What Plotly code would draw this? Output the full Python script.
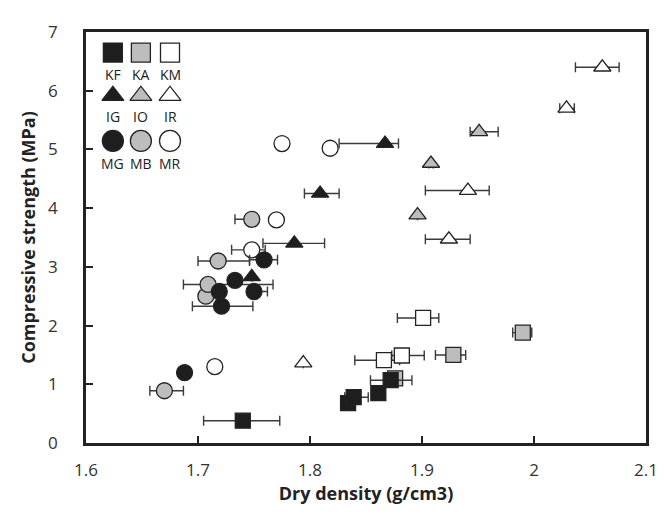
import plotly.graph_objects as go

# ---- data: dry density (x), compressive strength (y), x error minus/plus ----
KF_x = [1.740, 1.834, 1.839, 1.861, 1.872]
KF_y = [0.38, 0.68, 0.78, 0.85, 1.07]
KF_em = [0.035, 0.003, 0.008, 0.0, 0.018]
KF_ep = [0.033, 0.0, 0.013, 0.0, 0.019]

KA_x = [1.876, 1.928, 1.990]
KA_y = [1.10, 1.50, 1.88]
KA_em = [0.0, 0.016, 0.009]
KA_ep = [0.0, 0.011, 0.008]

KM_x = [1.866, 1.882, 1.901]
KM_y = [1.41, 1.49, 2.13]
KM_em = [0.026, 0.009, 0.023]
KM_ep = [0.014, 0.020, 0.014]

IG_x = [1.748, 1.786, 1.809, 1.867]
IG_y = [2.83, 3.40, 4.25, 5.10]
IG_em = [0.0, 0.028, 0.014, 0.041]
IG_ep = [0.0, 0.027, 0.017, 0.012]

IO_x = [1.896, 1.908, 1.951]
IO_y = [3.88, 4.76, 5.30]
IO_em = [0.0, 0.002, 0.008]
IO_ep = [0.0, 0.002, 0.017]

IR_x = [1.794, 1.924, 1.941, 2.029, 2.061]
IR_y = [1.36, 3.47, 4.30, 5.70, 6.40]
IR_em = [0.0, 0.021, 0.038, 0.006, 0.024]
IR_ep = [0.0, 0.019, 0.019, 0.007, 0.015]

MG_x = [1.688, 1.719, 1.721, 1.733, 1.750, 1.759]
MG_y = [1.20, 2.58, 2.33, 2.77, 2.58, 3.12]
MG_em = [0.0, 0.0, 0.026, 0.0, 0.0, 0.013]
MG_ep = [0.0, 0.0, 0.028, 0.0, 0.012, 0.012]

MB_x = [1.670, 1.707, 1.709, 1.718, 1.748]
MB_y = [0.89, 2.50, 2.70, 3.10, 3.81]
MB_em = [0.013, 0.0, 0.022, 0.018, 0.015]
MB_ep = [0.017, 0.0, 0.058, 0.028, 0.0]

MR_x = [1.715, 1.748, 1.770, 1.775, 1.818]
MR_y = [1.30, 3.29, 3.80, 5.10, 5.02]
MR_em = [0.002, 0.018, 0.0, 0.0, 0.0]
MR_ep = [0.002, 0.012, 0.0, 0.0, 0.0]

x_ticks = [1.6, 1.7, 1.8, 1.9, 2.0, 2.1]
x_tick_text = ["1.6", "1.7", "1.8", "1.9", "2", "2.1"]
y_ticks = [0, 1, 2, 3, 4, 5, 6, 7]

# legend grid (labels, symbols, fills)
leg_labels = [["KF", "KA", "KM"], ["IG", "IO", "IR"], ["MG", "MB", "MR"]]

BLACK = "#1e1e1e"
GRAY = "#bdbdbd"
WHITE = "#ffffff"
EDGE = "#232323"
ERR = "#3a3a3a"

series = [
    ("KM", KM_x, KM_y, KM_em, KM_ep, "square", WHITE, 15),
    ("KA", KA_x, KA_y, KA_em, KA_ep, "square", GRAY, 15),
    ("IR", IR_x, IR_y, IR_em, IR_ep, "triangle-up", WHITE, 15),
    ("IO", IO_x, IO_y, IO_em, IO_ep, "triangle-up", GRAY, 15),
    ("MR", MR_x, MR_y, MR_em, MR_ep, "circle", WHITE, 16),
    ("MB", MB_x, MB_y, MB_em, MB_ep, "circle", GRAY, 16),
    ("KF", KF_x, KF_y, KF_em, KF_ep, "square", BLACK, 15),
    ("IG", IG_x, IG_y, IG_em, IG_ep, "triangle-up", BLACK, 15),
    ("MG", MG_x, MG_y, MG_em, MG_ep, "circle", BLACK, 16),
]

fig = go.Figure()
for name, xs, ys, em, ep, sym, fill, size in series:
    fig.add_trace(go.Scatter(
        x=xs, y=ys, mode="markers", name=name, showlegend=False,
        error_x=dict(type="data", symmetric=False, array=ep, arrayminus=em,
                     color=ERR, thickness=1.4, width=5),
        marker=dict(symbol=sym, size=size, color=fill,
                    line=dict(color=EDGE, width=1.3)),
    ))

# custom grid legend drawn on an overlay axis in [0,1] units
leg_cols = [0.048, 0.098, 0.150]
leg_rows = [0.950, 0.845, 0.735]
leg_text_rows = [0.896, 0.795, 0.680]
leg_sym = ["square", "triangle-up", "circle"]
leg_fill = [BLACK, GRAY, WHITE]
leg_size = [19, 19, 21]
for r in range(3):
    for c in range(3):
        fig.add_trace(go.Scatter(
            x=[leg_cols[c]], y=[leg_rows[r]], xaxis="x2", yaxis="y2",
            mode="markers", showlegend=False, hoverinfo="skip",
            marker=dict(symbol=leg_sym[r], size=leg_size[r], color=leg_fill[c],
                        line=dict(color=EDGE, width=1.3)),
        ))
        fig.add_annotation(x=leg_cols[c], y=leg_text_rows[r], xref="x2", yref="y2",
                           text=leg_labels[r][c], showarrow=False,
                           font=dict(family="Open Sans", size=14, color="#222"))

fig.update_layout(
    width=667, height=515,
    margin=dict(l=78, r=29, t=17, b=80),
    paper_bgcolor="white", plot_bgcolor="white",
    font=dict(family="Open Sans", color="#222"),
    xaxis=dict(range=[1.6, 2.1], tickvals=x_ticks, ticktext=x_tick_text,
               showgrid=False, zeroline=False, showline=True, linecolor="#222",
               linewidth=2.5, mirror=True, ticks="inside", ticklen=7, tickwidth=2,
               tickcolor="#222", tickfont=dict(size=17, color="#333"),
               ticklabelstandoff=10,
               title=dict(text="<b>Dry density (g/cm3)</b>", font=dict(size=18), standoff=6)),
    yaxis=dict(range=[0, 7], tickvals=y_ticks,
               showgrid=False, zeroline=False, showline=True, linecolor="#222",
               linewidth=2.5, mirror=True, ticks="inside", ticklen=7, tickwidth=2,
               tickcolor="#222", tickfont=dict(size=17, color="#333"),
               ticklabelstandoff=22,
               title=dict(text="<b>Compressive strength (MPa)</b>", font=dict(size=18), standoff=8)),
    xaxis2=dict(range=[0, 1], overlaying="x", visible=False, fixedrange=True),
    yaxis2=dict(range=[0, 1], overlaying="y", visible=False, fixedrange=True),
)

fig.write_html("out.html")
